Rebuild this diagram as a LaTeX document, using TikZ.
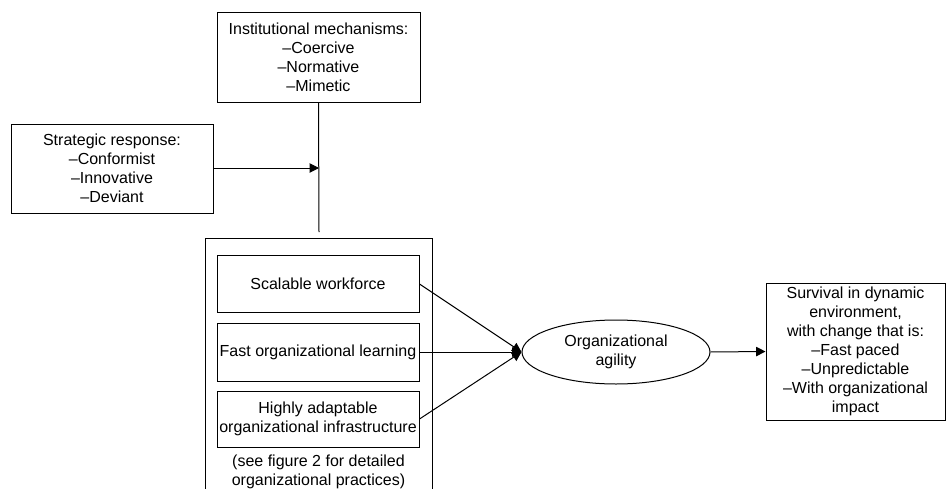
\documentclass[tikz,border=0pt]{standalone}
\usepackage{fontspec}
\setmainfont{Liberation Sans}
\usetikzlibrary{arrows.meta,shapes.geometric}
\begin{document}
\begin{tikzpicture}[x=.75pt,y=-.75pt,line width=.75pt,
  box/.style={draw,align=center,inner sep=1pt,font=\fontsize{12}{14.25}\selectfont},
  oval/.style={draw,ellipse,align=center,inner sep=0pt,font=\fontsize{12}{14.25}\selectfont},
  plain/.style={align=center,inner sep=0pt,font=\fontsize{12}{14.25}\selectfont},
  link/.style={-{Triangle[length=7pt,width=7pt]}}]
\useasboundingbox (0,0) rectangle (946,489);
\node[box,minimum width=203*.75pt,minimum height=90*.75pt] (inst) at (318.5,57)
  {Institutional mechanisms:\\–Coercive\\–Normative\\–Mimetic};
\node[box,minimum width=202*.75pt,minimum height=89*.75pt] (strat) at (112,168.5)
  {Strategic response:\\–Conformist\\–Innovative\\–Deviant};
\coordinate (join) at (319,168);
\coordinate (lineend) at (319,232);
\node[draw,minimum width=227*.75pt,minimum height=270*.75pt] (group) at (318.5,373) {};
\node[box,minimum width=202*.75pt,minimum height=57*.75pt] (scal) at (318,284)
  {Scalable workforce};
\node[box,minimum width=202*.75pt,minimum height=58*.75pt] (learn) at (318,352)
  {Fast organizational learning};
\node[box,minimum width=202*.75pt,minimum height=56*.75pt] (infra) at (318,419)
  {Highly adaptable\\organizational infrastructure};
\node[plain] (note) at (318.5,472)
  {(see figure 2 for detailed\\organizational practices)};
\node[oval,minimum width=188*.75pt,minimum height=64*.75pt] (agil) at (616,352)
  {Organizational\\agility};
\node[box,minimum width=179*.75pt,minimum height=137*.75pt] (surv) at (855.5,351.5)
  {Survival in dynamic\\environment,\\with change that is:\\–Fast paced\\–Unpredictable\\–With organizational\\impact};
% moderating line
\draw (inst.south) -- (lineend);
\draw[link] (strat.east |- join) -- (join);
% practices to agility
\draw[link] (scal.east) -- (agil.west);
\draw[link] (learn.east) -- (agil.west);
\draw[link] (infra.east) -- (agil.west);
\draw[link] (agil.east) -- (surv.west);
\end{tikzpicture}
\end{document}
